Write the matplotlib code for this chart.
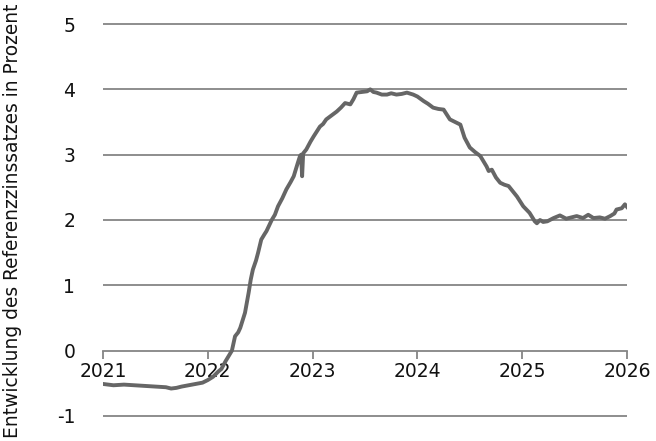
import matplotlib
matplotlib.use("Agg")
import matplotlib.pyplot as plt

# decimal year, rate in percent
years = [2021.00, 2021.10, 2021.20, 2021.30, 2021.40, 2021.50, 2021.60, 2021.65, 2021.70, 2021.75,
         2021.85, 2021.95, 2022.00, 2022.05, 2022.10, 2022.13, 2022.17, 2022.20, 2022.23, 2022.26,
         2022.29, 2022.31, 2022.355, 2022.39, 2022.41, 2022.43, 2022.46, 2022.48, 2022.51, 2022.54,
         2022.56, 2022.61, 2022.64, 2022.67, 2022.71, 2022.75, 2022.79, 2022.82, 2022.86, 2022.88,
         2022.89, 2022.90, 2022.91, 2022.94, 2022.98, 2023.01, 2023.07, 2023.10, 2023.13, 2023.18,
         2023.23, 2023.27, 2023.31, 2023.36, 2023.39, 2023.42, 2023.47, 2023.52, 2023.55, 2023.58,
         2023.61, 2023.66, 2023.71, 2023.75, 2023.80, 2023.85, 2023.90, 2023.96, 2024.00, 2024.06,
         2024.10, 2024.15, 2024.20, 2024.25, 2024.31, 2024.36, 2024.41, 2024.45, 2024.50, 2024.55,
         2024.60, 2024.66, 2024.68, 2024.71, 2024.75, 2024.79, 2024.83, 2024.87, 2024.91, 2024.95,
         2025.01, 2025.07, 2025.12, 2025.14, 2025.17, 2025.20, 2025.24, 2025.30, 2025.36, 2025.42,
         2025.47, 2025.52, 2025.58, 2025.63, 2025.68, 2025.74, 2025.79, 2025.84, 2025.88, 2025.90,
         2025.95, 2025.98, 2026.00]
rates = [-0.51, -0.53, -0.52, -0.53, -0.54, -0.55, -0.56, -0.58, -0.57, -0.55,
         -0.52, -0.49, -0.45, -0.40, -0.32, -0.28, -0.16, -0.08, 0.00, 0.22,
         0.28, 0.35, 0.58, 0.89, 1.09, 1.24, 1.38, 1.50, 1.70, 1.78,
         1.83, 2.00, 2.08, 2.21, 2.33, 2.47, 2.58, 2.67, 2.88, 2.98,
         3.00, 2.67, 3.02, 3.08, 3.20, 3.28, 3.43, 3.47, 3.54, 3.60,
         3.66, 3.72, 3.79, 3.77, 3.85, 3.95, 3.96, 3.97, 4.00, 3.96,
         3.95, 3.92, 3.92, 3.94, 3.92, 3.93, 3.95, 3.92, 3.89, 3.82,
         3.78, 3.72, 3.70, 3.69, 3.54, 3.50, 3.46, 3.26, 3.11, 3.04,
         2.98, 2.82, 2.75, 2.77, 2.65, 2.57, 2.54, 2.52, 2.44, 2.36,
         2.21, 2.11, 1.98, 1.95, 2.00, 1.97, 1.98, 2.03, 2.07, 2.02,
         2.04, 2.06, 2.03, 2.08, 2.03, 2.04, 2.02, 2.06, 2.10, 2.16,
         2.18, 2.24, 2.20]

xticks = [2021, 2022, 2023, 2024, 2025, 2026]
yticks = [-1, 0, 1, 2, 3, 4, 5]
ylabel = "Entwicklung des Referenzzinssatzes in Prozent"

plt.rcParams['font.family'] = ['DejaVu Sans']

fig = plt.figure(figsize=(6.56, 4.41), dpi=100)
ax = fig.add_axes([103/656, 1 - 422.5/441, (627 - 103)/656, 405/441])
ax.set_xlim(2021, 2026)
ax.set_ylim(-1.1, 5.1)

for y in yticks:
    if y != 0:
        ax.axhline(y, color='#858585', lw=1.3, zorder=1)

ax.plot(years, rates, color='#666666', lw=2.8, zorder=3, solid_joinstyle='round')

for s in ['top', 'right', 'left']:
    ax.spines[s].set_visible(False)
ax.spines['bottom'].set_position(('data', 0))
ax.spines['bottom'].set_color('#858585')
ax.spines['bottom'].set_linewidth(1.3)
ax.spines['bottom'].set_zorder(1)

ax.set_xticks(xticks)
ax.set_xticklabels([str(x) for x in xticks])
ax.tick_params(axis='x', direction='out', length=6, width=1.3, color='#858585',
               labelsize=13.5, pad=2, labelcolor='#111111')
ax.set_yticks(yticks)
ax.set_yticklabels([str(y) for y in yticks])
ax.tick_params(axis='y', length=0, labelsize=13.5, pad=20, labelcolor='#111111')

fig.text(13/656, 0.50, ylabel, rotation=90, va='center', ha='center', fontsize=13.4, color='#111111')

fig.savefig('out.png', dpi=100)
